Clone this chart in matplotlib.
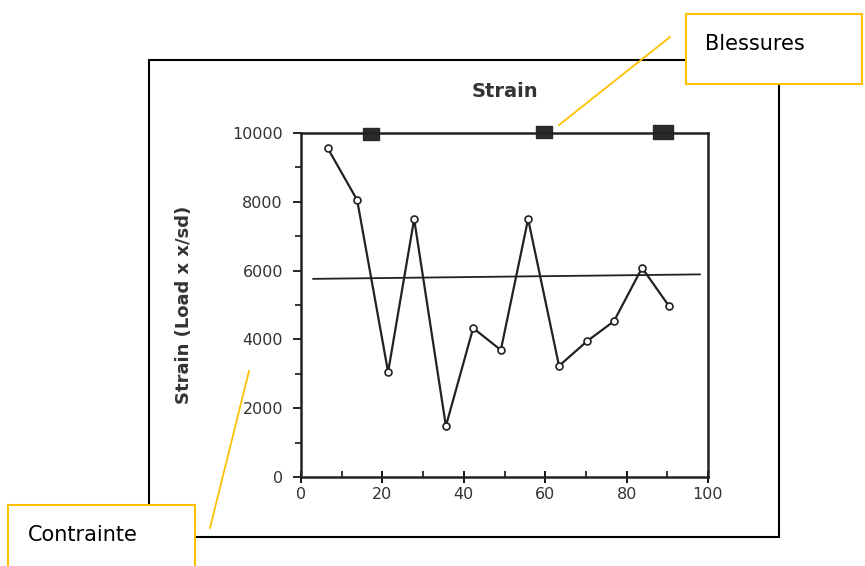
import matplotlib.pyplot as plt
from matplotlib.lines import Line2D
from matplotlib.patches import Rectangle

# strain readings
x_vals = [6.6, 13.8, 21.4, 27.8, 35.6, 42.3, 49.1, 55.8, 63.4, 70.3, 76.9, 83.8, 90.4]
strain = [9550, 8050, 3050, 7500, 1480, 4330, 3690, 7500, 3230, 3950, 4530, 6080, 4970]

# reference line (slightly tilted in the scan)
ref_x = [3, 98]
ref_y = [5760, 5890]

# injury markers on the top edge
injury_x = [17.2, 59.7, 89.0]
injury_y = [9980, 10020, 10040]
injury_size = [12, 12, 15]

title = "Strain"
ylabel = "Strain (Load x x/sd)"
callout_top = "Blessures"
callout_left = "Contrainte"

W, H = 865, 566
fig = plt.figure(figsize=(W / 100, H / 100), dpi=100)


def fx(px):
    return px / W


def fy(py):
    return 1 - py / H


ax = fig.add_axes([fx(301), fy(477), fx(708) - fx(301), fy(133) - fy(477)])

ax.plot(ref_x, ref_y, color="#222222", lw=1.3)
ax.plot(x_vals, strain, color="#222222", lw=1.6, marker="o", ms=5,
        mfc="white", mec="#222222", mew=1.2)

# wide flat rectangle marker like the scan
rect_marker = [(-1, -0.7), (1, -0.7), (1, 0.7), (-1, 0.7), (-1, -0.7)]
for xi, yi, s in zip(injury_x, injury_y, injury_size):
    ax.plot(xi, yi, marker=rect_marker, ms=s, color="#2a2a2a", clip_on=False)

ax.set_xlim(0, 100)
ax.set_ylim(0, 10000)
ax.set_xticks(range(0, 101, 20))
ax.set_xticks(range(0, 101, 10), minor=True)
ax.set_yticks(range(0, 10001, 2000))
ax.set_yticks(range(0, 10001, 1000), minor=True)
ax.tick_params(axis="x", direction="inout", length=8, width=1.3, labelsize=11.5, pad=3)
ax.tick_params(axis="x", which="minor", direction="in", length=4, width=1.1)
ax.tick_params(axis="y", direction="out", length=6, width=1.2, labelsize=11.5, pad=7)
ax.tick_params(axis="y", which="minor", direction="out", length=4, width=1.1)
for sp in ax.spines.values():
    sp.set_linewidth(1.8)
    sp.set_color("#222222")
for lab in ax.get_xticklabels() + ax.get_yticklabels():
    lab.set_color("#333333")

ax.set_title(title, fontsize=14, fontweight="bold", color="#333333", pad=26)
ax.set_ylabel(ylabel, fontsize=13, fontweight="bold", color="#333333", labelpad=28)

# outer frame
fig.add_artist(Rectangle((fx(149), fy(537)), fx(779) - fx(149), fy(60) - fy(537),
                         transform=fig.transFigure, fill=False, ec="black", lw=1.5))

yellow = "#FFC000"
# callout leader lines
fig.add_artist(Line2D([fx(670), fx(559)], [fy(37), fy(125)], transform=fig.transFigure,
                      color=yellow, lw=1.3))
fig.add_artist(Line2D([fx(249), fx(210)], [fy(371), fy(528)], transform=fig.transFigure,
                      color=yellow, lw=1.3))

# callout boxes
fig.add_artist(Rectangle((fx(686), fy(84)), fx(862) - fx(686), fy(14) - fy(84),
                         transform=fig.transFigure, fc="white", ec=yellow, lw=1.5, zorder=5))
fig.text(fx(705), fy(44), callout_top, fontsize=15, va="center", ha="left", zorder=6)

fig.add_artist(Rectangle((fx(8), fy(570)), fx(195) - fx(8), fy(505) - fy(570),
                         transform=fig.transFigure, fc="white", ec=yellow, lw=1.5, zorder=5))
fig.text(fx(28), fy(535), callout_left, fontsize=15, va="center", ha="left", zorder=6)

fig.savefig("out.png", dpi=100)
